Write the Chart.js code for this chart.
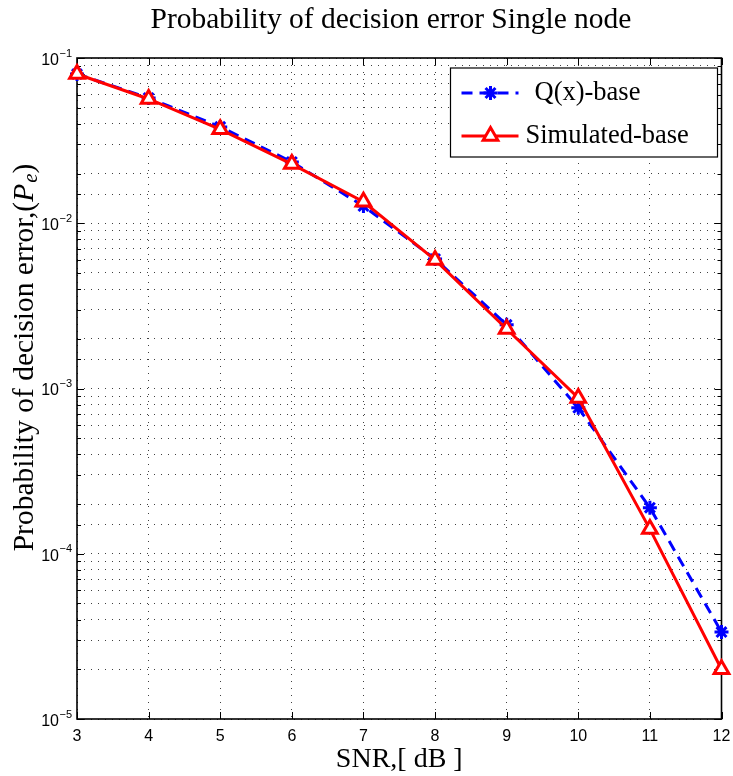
<!DOCTYPE html>
<html>
<head>
<meta charset="utf-8">
<title>Probability of decision error</title>
<script src="https://cdn.jsdelivr.net/npm/chart.js@4.4.0/dist/chart.umd.min.js"></script>
<style>
  body { margin: 0; background: #fff; }
</style>
</head>
<body>
<canvas id="chart" width="733" height="776"></canvas>
<script>
// SNR in dB
const snr = [3, 4, 5, 6, 7, 8, 9, 10, 11, 12];
// analytical Q-function curve
const qBase = [0.080, 0.0573, 0.0383, 0.0235, 0.0127, 0.00608, 0.00243, 0.000764, 0.000190, 0.0000336];
// simulated curve
const simBase = [0.080, 0.0565, 0.0370, 0.0228, 0.0135, 0.0060, 0.00229, 0.000877, 0.000141, 0.0000200];
const seriesNames = ['Q(x)-base', 'Simulated-base'];
// decade tick labels: 10^exp
const decadeValues = [1e-1, 1e-2, 1e-3, 1e-4, 1e-5];
const decadeExps = ['\u22121', '\u22122', '\u22123', '\u22124', '\u22125'];

const serif = '"Liberation Serif", "Times New Roman", serif';
const sans = '"Liberation Sans", Arial, sans-serif';

const isDecade = v => Math.abs(Math.log10(v) - Math.round(Math.log10(v))) < 1e-9;

// frame, inward tick marks, tick labels, titles and the boxed legend
const decorations = {
  id: 'decorations',
  beforeDatasetsDraw(chart) {
    const { ctx, chartArea: a, scales: { x, y } } = chart;
    ctx.save();
    ctx.strokeStyle = '#000';
    ctx.lineWidth = 1;
    ctx.beginPath();
    y.ticks.forEach(t => {
      const py = Math.round(y.getPixelForValue(t.value)) + 0.5;
      const len = isDecade(t.value) ? 7 : 4;
      ctx.moveTo(a.left, py); ctx.lineTo(a.left + len, py);
      ctx.moveTo(a.right, py); ctx.lineTo(a.right - len, py);
    });
    x.ticks.forEach(t => {
      const px = Math.round(x.getPixelForValue(t.value)) + 0.5;
      ctx.moveTo(px, a.bottom); ctx.lineTo(px, a.bottom - 7);
      ctx.moveTo(px, a.top); ctx.lineTo(px, a.top + 7);
    });
    ctx.stroke();
    ctx.lineWidth = 1.6;
    ctx.strokeRect(a.left, a.top, a.right - a.left, a.bottom - a.top);
    ctx.restore();
  },
  afterDraw(chart) {
    const { ctx, chartArea: a, scales: { y } } = chart;
    ctx.save();
    ctx.fillStyle = '#000';

    // y tick labels as 10 with a raised exponent
    decadeValues.forEach((v, i) => {
      const py = y.getPixelForValue(v);
      ctx.font = '16px ' + sans;
      ctx.textAlign = 'right';
      ctx.textBaseline = 'middle';
      ctx.fillText('10', a.left - 18, py + 2.5);
      ctx.font = '11px ' + sans;
      ctx.textAlign = 'left';
      ctx.fillText(decadeExps[i], a.left - 17.5, py - 4.5);
    });

    // chart title
    ctx.font = '29.5px ' + serif;
    ctx.textAlign = 'center';
    ctx.textBaseline = 'middle';
    ctx.fillText('Probability of decision error Single node', 391, 20);

    // y axis title with italic P and subscript e
    ctx.translate(25, 358);
    ctx.rotate(-Math.PI / 2);
    const parts = [
      { t: 'Probability of decision error,(', f: '29.5px ' + serif, dy: 0 },
      { t: 'P', f: 'italic 29.5px ' + serif, dy: 0 },
      { t: 'e', f: 'italic 21px ' + serif, dy: 6 },
      { t: ')', f: '29.5px ' + serif, dy: 0 }
    ];
    let total = 0;
    parts.forEach(p => { ctx.font = p.f; p.w = ctx.measureText(p.t).width; total += p.w; });
    let cx = -total / 2;
    ctx.textAlign = 'left';
    parts.forEach(p => {
      ctx.font = p.f;
      ctx.fillText(p.t, cx, p.dy);
      cx += p.w + (p.t === 'P' ? 1 : 0);
    });
    ctx.setTransform(1, 0, 0, 1, 0, 0);

    // legend box in the upper right corner
    const bx = a.right - 271, by = a.top + 10, bw = 267, bh = 89;
    ctx.fillStyle = '#fff';
    ctx.fillRect(bx, by, bw, bh);
    ctx.strokeStyle = '#000';
    ctx.lineWidth = 1.2;
    ctx.strokeRect(bx, by, bw, bh);
    const rowY = [by + 25, by + 68];
    const textX = [bx + 84, bx + 75];
    chart.data.datasets.forEach((ds, i) => {
      const ly = rowY[i];
      ctx.save();
      ctx.strokeStyle = ds.borderColor;
      ctx.lineWidth = ds.borderWidth;
      ctx.setLineDash(ds.borderDash || []);
      ctx.beginPath();
      ctx.moveTo(bx + 11, ly);
      ctx.lineTo(bx + 68, ly);
      ctx.stroke();
      ctx.setLineDash([]);
      ctx.fillStyle = ds.pointBackgroundColor;
      ctx.strokeStyle = ds.pointBorderColor;
      ctx.lineWidth = ds.pointBorderWidth;
      Chart.helpers.drawPoint(ctx, {
        pointStyle: ds.pointStyle, radius: ds.pointRadius, rotation: 0, borderWidth: ds.pointBorderWidth
      }, bx + 40, ly);
      ctx.restore();
      ctx.fillStyle = '#000';
      ctx.font = '26.5px ' + serif;
      ctx.textAlign = 'left';
      ctx.textBaseline = 'middle';
      ctx.fillText(ds.label, textX[i], ly);
    });
    ctx.restore();
  }
};

new Chart(document.getElementById('chart'), {
  type: 'line',
  data: {
    datasets: [
      {
        label: seriesNames[0],
        data: snr.map((s, i) => ({ x: s, y: qBase[i] })),
        borderColor: '#0000ff',
        borderWidth: 3,
        borderDash: [11, 7],
        pointStyle: 'star',
        pointRadius: 7,
        pointBorderWidth: 3,
        pointBorderColor: '#0000ff',
        pointBackgroundColor: '#0000ff',
        clip: false,
        order: 1
      },
      {
        label: seriesNames[1],
        data: snr.map((s, i) => ({ x: s, y: simBase[i] })),
        borderColor: '#ff0000',
        borderWidth: 3,
        pointStyle: 'triangle',
        pointRadius: 8.5,
        pointBorderWidth: 3,
        pointBorderColor: '#ff0000',
        pointBackgroundColor: '#ffffff',
        clip: false,
        order: 0
      }
    ]
  },
  options: {
    responsive: false,
    animation: false,
    layout: { padding: { top: 58, right: 11, left: 0, bottom: 0 } },
    plugins: { legend: { display: false }, tooltip: { enabled: false } },
    scales: {
      x: {
        type: 'linear',
        min: 3,
        max: 12,
        ticks: { stepSize: 1, padding: 0, color: '#000', font: { family: sans, size: 16 } },
        grid: { color: 'rgba(0,0,0,0.75)', lineWidth: 1, drawTicks: true, tickLength: 8, tickColor: 'transparent' },
        border: { display: false, dash: [1, 6] },
        title: {
          display: true,
          text: 'SNR,[ dB ]',
          color: '#000',
          font: { family: serif, size: 28 },
          padding: { top: 0, bottom: 0 }
        },
        afterFit: s => { s.height = 57; }
      },
      y: {
        type: 'logarithmic',
        min: 1e-5,
        max: 1e-1,
        ticks: { display: false, autoSkip: false },
        grid: { color: 'rgba(0,0,0,0.75)', lineWidth: 1, drawTicks: false },
        border: { display: false, dash: [1, 6] },
        afterFit: s => { s.width = 77; }
      }
    }
  },
  plugins: [decorations]
});
</script>
</body>
</html>
